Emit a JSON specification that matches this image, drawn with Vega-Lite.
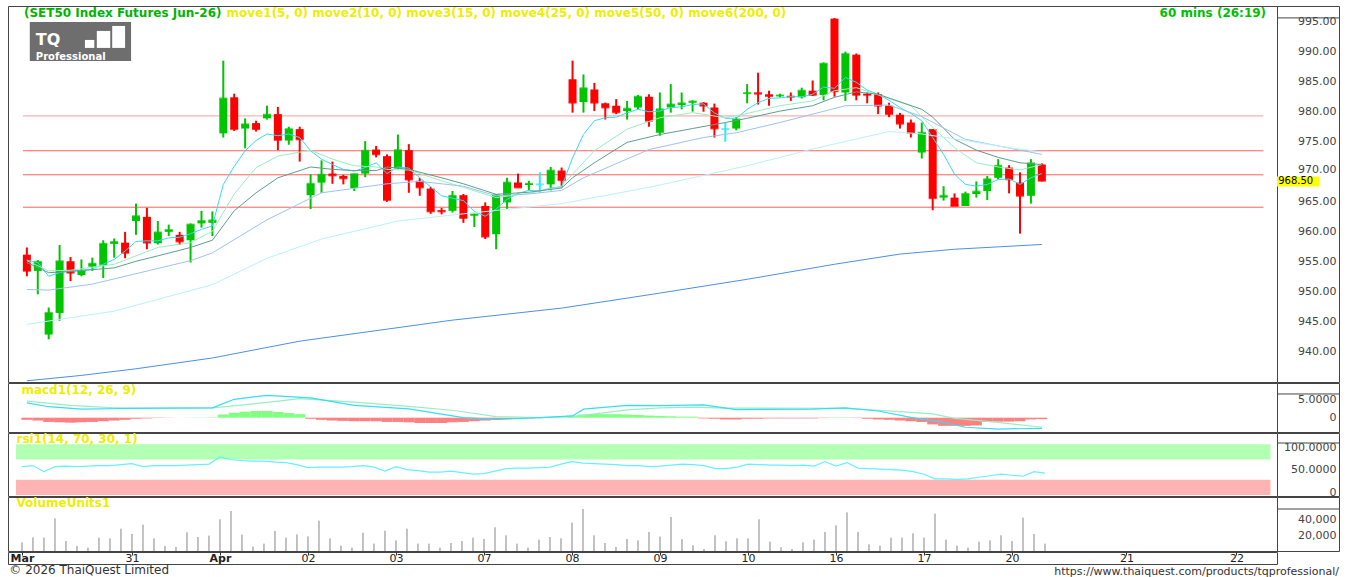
{
"$schema": "https://vega.github.io/schema/vega-lite/v6.json",
"padding": {"left": 7, "top": 5, "right": 8, "bottom": 0},
"background": "white",
"bounds": "flush",
"columns": 2,
"spacing": {"row": 1, "column": 0},
"config": {"view": {"stroke": "#444", "strokeWidth": 1}, "font": "DejaVu Sans"},
"datasets": {
"candles": [
{"i":0,"o":956.2,"h":957.4,"l":952.6,"c":953.5,"vol":10800,"rsi":56,"hist":-0.6},
{"i":1,"o":953.5,"h":955.3,"l":949.6,"c":955.0,"vol":17000,"rsi":58,"hist":-0.8},
{"i":2,"o":942.9,"h":947.4,"l":942.1,"c":946.5,"vol":16700,"rsi":46,"hist":-1.2},
{"i":3,"o":946.5,"h":957.8,"l":945.2,"c":955.1,"vol":40800,"rsi":56,"hist":-1.3},
{"i":4,"o":955.1,"h":955.8,"l":951.8,"c":953.2,"vol":12500,"rsi":57,"hist":-1.4},
{"i":5,"o":952.8,"h":955.4,"l":952.6,"c":953.5,"vol":6300,"rsi":56,"hist":-1.3},
{"i":6,"o":954.2,"h":955.7,"l":953.5,"c":954.7,"vol":4200,"rsi":57,"hist":-1.2},
{"i":7,"o":954.5,"h":958.6,"l":952.3,"c":958.0,"vol":16700,"rsi":58,"hist":-1.0},
{"i":8,"o":958.0,"h":958.9,"l":955.7,"c":958.3,"vol":15800,"rsi":58,"hist":-0.8},
{"i":9,"o":958.2,"h":960.0,"l":955.6,"c":956.5,"vol":27900,"rsi":60,"hist":-0.6},
{"i":10,"o":961.8,"h":964.7,"l":959.5,"c":962.6,"vol":21300,"rsi":62,"hist":-0.3},
{"i":11,"o":962.5,"h":964.0,"l":957.1,"c":958.2,"vol":32900,"rsi":56,"hist":-0.2},
{"i":12,"o":958.1,"h":961.8,"l":957.9,"c":959.9,"vol":15800,"rsi":58,"hist":-0.1},
{"i":13,"o":960.0,"h":961.2,"l":959.3,"c":960.3,"vol":6300,"rsi":58,"hist":-0.05},
{"i":14,"o":959.5,"h":960.0,"l":957.8,"c":958.4,"vol":5000,"rsi":58,"hist":0},
{"i":15,"o":958.6,"h":961.4,"l":954.9,"c":961.2,"vol":23300,"rsi":59,"hist":0.05},
{"i":16,"o":961.4,"h":963.5,"l":960.7,"c":961.8,"vol":17500,"rsi":60,"hist":0.05},
{"i":17,"o":961.5,"h":963.4,"l":959.3,"c":961.9,"vol":19200,"rsi":61,"hist":0.1},
{"i":18,"o":976.4,"h":988.5,"l":975.7,"c":982.2,"vol":39600,"rsi":75,"hist":0.9},
{"i":19,"o":982.4,"h":983.0,"l":976.8,"c":977.1,"vol":50000,"rsi":70,"hist":1.4},
{"i":20,"o":977.2,"h":978.9,"l":973.9,"c":977.9,"vol":20400,"rsi":68,"hist":1.7},
{"i":21,"o":978.1,"h":978.5,"l":976.7,"c":977.1,"vol":5400,"rsi":67,"hist":1.9},
{"i":22,"o":978.9,"h":981.0,"l":978.7,"c":979.5,"vol":9200,"rsi":67,"hist":1.9},
{"i":23,"o":979.6,"h":980.8,"l":973.6,"c":975.3,"vol":25000,"rsi":65,"hist":1.6},
{"i":24,"o":975.2,"h":977.5,"l":974.5,"c":977.1,"vol":16700,"rsi":64,"hist":1.3},
{"i":25,"o":977.1,"h":977.5,"l":971.7,"c":975.4,"vol":20800,"rsi":60,"hist":1.0},
{"i":26,"o":966.1,"h":969.6,"l":963.8,"c":968.0,"vol":18300,"rsi":54,"hist":-0.3},
{"i":27,"o":968.2,"h":971.9,"l":966.5,"c":969.5,"vol":37900,"rsi":55,"hist":-0.6},
{"i":28,"o":969.7,"h":971.7,"l":968.0,"c":969.4,"vol":15800,"rsi":55,"hist":-0.8},
{"i":29,"o":969.3,"h":969.5,"l":967.9,"c":968.9,"vol":6700,"rsi":55,"hist":-0.9},
{"i":30,"o":967.3,"h":969.7,"l":966.8,"c":969.6,"vol":4200,"rsi":56,"hist":-1.0},
{"i":31,"o":969.7,"h":975.1,"l":969.1,"c":973.5,"vol":22900,"rsi":58,"hist":-1.0},
{"i":32,"o":973.7,"h":974.3,"l":972.4,"c":972.9,"vol":9200,"rsi":55,"hist":-1.0},
{"i":33,"o":972.6,"h":972.9,"l":965.0,"c":965.3,"vol":25400,"rsi":47,"hist":-1.2},
{"i":34,"o":970.6,"h":976.2,"l":970.4,"c":973.6,"vol":13300,"rsi":56,"hist":-1.2},
{"i":35,"o":973.6,"h":974.6,"l":966.5,"c":968.7,"vol":27900,"rsi":50,"hist":-1.3},
{"i":36,"o":968.5,"h":969.0,"l":966.0,"c":967.4,"vol":9200,"rsi":48,"hist":-1.5},
{"i":37,"o":967.2,"h":967.5,"l":963.0,"c":963.4,"vol":9200,"rsi":45,"hist":-1.5},
{"i":38,"o":963.6,"h":964.0,"l":962.9,"c":963.4,"vol":4200,"rsi":45,"hist":-1.5},
{"i":39,"o":963.5,"h":966.8,"l":963.2,"c":966.0,"vol":10000,"rsi":47,"hist":-1.3},
{"i":40,"o":966.1,"h":966.3,"l":961.5,"c":962.3,"vol":12500,"rsi":44,"hist":-1.2},
{"i":41,"o":962.7,"h":963.0,"l":960.8,"c":962.9,"vol":16700,"rsi":41,"hist":-1.0},
{"i":42,"o":964.3,"h":964.9,"l":958.8,"c":959.2,"vol":15000,"rsi":42,"hist":-0.8},
{"i":43,"o":959.6,"h":966.3,"l":957.1,"c":966.1,"vol":29600,"rsi":47,"hist":-0.6},
{"i":44,"o":964.9,"h":969.0,"l":963.8,"c":968.2,"vol":19600,"rsi":52,"hist":-0.4},
{"i":45,"o":968.2,"h":969.7,"l":967.4,"c":967.4,"vol":9200,"rsi":53,"hist":-0.3},
{"i":46,"o":967.8,"h":968.5,"l":966.9,"c":968.0,"vol":4200,"rsi":53,"hist":-0.2},
{"i":47,"o":967.9,"h":969.9,"l":966.5,"c":967.9,"vol":14200,"rsi":54,"hist":-0.1},
{"i":48,"o":967.9,"h":970.8,"l":966.9,"c":970.2,"vol":17500,"rsi":55,"hist":0},
{"i":49,"o":970.2,"h":970.7,"l":967.4,"c":968.6,"vol":15800,"rsi":61,"hist":0.1},
{"i":50,"o":985.4,"h":988.5,"l":979.85,"c":981.5,"vol":35400,"rsi":66,"hist":0.6},
{"i":51,"o":981.6,"h":986.2,"l":979.85,"c":983.9,"vol":52500,"rsi":63,"hist":0.9},
{"i":52,"o":983.7,"h":984.8,"l":980.1,"c":981.5,"vol":19600,"rsi":62,"hist":1.0},
{"i":53,"o":981.4,"h":981.5,"l":978.7,"c":980.7,"vol":10000,"rsi":61,"hist":1.0},
{"i":54,"o":981.0,"h":982.1,"l":979.6,"c":979.9,"vol":5000,"rsi":60,"hist":1.0},
{"i":55,"o":980.1,"h":981.8,"l":978.7,"c":980.5,"vol":15000,"rsi":58,"hist":0.9},
{"i":56,"o":980.7,"h":982.8,"l":980.4,"c":982.5,"vol":13300,"rsi":58,"hist":0.8},
{"i":57,"o":982.5,"h":982.9,"l":977.5,"c":978.5,"vol":23800,"rsi":56,"hist":0.6},
{"i":58,"o":976.5,"h":983.2,"l":976.0,"c":980.4,"vol":18000,"rsi":57,"hist":0.5},
{"i":59,"o":980.7,"h":984.6,"l":979.85,"c":981.2,"vol":42500,"rsi":59,"hist":0.4},
{"i":60,"o":981.1,"h":983.2,"l":980.4,"c":981.4,"vol":14800,"rsi":61,"hist":0.3},
{"i":61,"o":981.5,"h":981.9,"l":980.0,"c":981.7,"vol":7200,"rsi":60,"hist":0.3},
{"i":62,"o":981.5,"h":981.6,"l":980.0,"c":981.0,"vol":2500,"rsi":58,"hist":-0.2},
{"i":63,"o":980.7,"h":981.35,"l":975.7,"c":977.2,"vol":19600,"rsi":52,"hist":-0.3},
{"i":64,"o":977.1,"h":978.2,"l":975.0,"c":977.1,"vol":12100,"rsi":52,"hist":-0.5},
{"i":65,"o":977.2,"h":979.1,"l":976.9,"c":978.7,"vol":15800,"rsi":55,"hist":-0.5},
{"i":66,"o":983.0,"h":984.6,"l":981.4,"c":983.1,"vol":15800,"rsi":61,"hist":-0.3},
{"i":67,"o":983.2,"h":986.5,"l":981.2,"c":983.0,"vol":39600,"rsi":60,"hist":-0.3},
{"i":68,"o":982.9,"h":983.5,"l":981.0,"c":982.6,"vol":11700,"rsi":59,"hist":-0.2},
{"i":69,"o":982.6,"h":983.0,"l":982.4,"c":982.7,"vol":4600,"rsi":59,"hist":-0.2},
{"i":70,"o":982.6,"h":983.2,"l":981.8,"c":982.5,"vol":2500,"rsi":58,"hist":-0.2},
{"i":71,"o":982.4,"h":984.0,"l":982.2,"c":983.5,"vol":10800,"rsi":59,"hist":-0.2},
{"i":72,"o":983.5,"h":985.2,"l":982.6,"c":982.8,"vol":14200,"rsi":57,"hist":-0.2},
{"i":73,"o":982.8,"h":988.2,"l":981.9,"c":988.0,"vol":23800,"rsi":66,"hist":-0.1},
{"i":74,"o":995.5,"h":995.6,"l":982.5,"c":983.4,"vol":32100,"rsi":57,"hist":0.1},
{"i":75,"o":983.2,"h":990.0,"l":981.8,"c":989.6,"vol":48300,"rsi":64,"hist":0.1},
{"i":76,"o":989.5,"h":989.7,"l":981.9,"c":982.8,"vol":23800,"rsi":53,"hist":-0.1},
{"i":77,"o":983.0,"h":983.2,"l":981.4,"c":982.8,"vol":8300,"rsi":52,"hist":-0.3},
{"i":78,"o":982.9,"h":983.2,"l":979.6,"c":981.0,"vol":6700,"rsi":51,"hist":-0.5},
{"i":79,"o":981.0,"h":981.5,"l":979.1,"c":979.6,"vol":16700,"rsi":50,"hist":-0.6},
{"i":80,"o":979.5,"h":979.8,"l":977.2,"c":978.0,"vol":16700,"rsi":49,"hist":-0.8},
{"i":81,"o":978.2,"h":978.7,"l":975.7,"c":976.5,"vol":22100,"rsi":46,"hist":-1.0},
{"i":82,"o":973.2,"h":978.2,"l":972.2,"c":976.5,"vol":16700,"rsi":41,"hist":-1.2},
{"i":83,"o":977.1,"h":977.1,"l":963.6,"c":965.6,"vol":46700,"rsi":32,"hist":-1.9},
{"i":84,"o":965.7,"h":967.6,"l":965.2,"c":966.0,"vol":14200,"rsi":32,"hist":-2.3},
{"i":85,"o":965.7,"h":966.4,"l":964.3,"c":964.3,"vol":6700,"rsi":31,"hist":-2.3},
{"i":86,"o":964.3,"h":966.7,"l":964.3,"c":966.3,"vol":4200,"rsi":32,"hist":-2.3},
{"i":87,"o":966.3,"h":968.4,"l":965.7,"c":966.7,"vol":11700,"rsi":35,"hist":-2.2},
{"i":88,"o":966.8,"h":969.3,"l":965.3,"c":968.75,"vol":13300,"rsi":38,"hist":-1.2},
{"i":89,"o":969.0,"h":972.1,"l":968.75,"c":971.0,"vol":19600,"rsi":41,"hist":-1.1},
{"i":90,"o":970.7,"h":971.1,"l":966.4,"c":968.75,"vol":12500,"rsi":39,"hist":-1.1},
{"i":91,"o":968.2,"h":969.9,"l":959.7,"c":966.0,"vol":41700,"rsi":37,"hist":-1.0},
{"i":92,"o":966.0,"h":972.1,"l":964.7,"c":971.4,"vol":21300,"rsi":46,"hist":-0.5},
{"i":93,"o":971.2,"h":971.4,"l":968.4,"c":968.5,"vol":9200,"rsi":43,"hist":-0.4}
],
"ma": [
{"i":0,"s":"move1","p":955.3},{"i":1,"s":"move1","p":954.9},{"i":2,"s":"move1","p":952.6},{"i":3,"s":"move1","p":953.2},{"i":4,"s":"move1","p":953.5},{"i":5,"s":"move1","p":953.6},{"i":6,"s":"move1","p":953.8},{"i":7,"s":"move1","p":954.6},{"i":8,"s":"move1","p":955.4},{"i":9,"s":"move1","p":956.8},
{"i":10,"s":"move1","p":958.4},{"i":11,"s":"move1","p":958.5},{"i":12,"s":"move1","p":958.5},{"i":13,"s":"move1","p":959.0},{"i":14,"s":"move1","p":959.1},{"i":15,"s":"move1","p":959.7},{"i":16,"s":"move1","p":960.4},{"i":17,"s":"move1","p":961.0},{"i":18,"s":"move1","p":967.9},{"i":19,"s":"move1","p":970.9},
{"i":20,"s":"move1","p":973.5},{"i":21,"s":"move1","p":975.2},{"i":22,"s":"move1","p":976.3},{"i":23,"s":"move1","p":976.0},{"i":24,"s":"move1","p":976.3},{"i":25,"s":"move1","p":975.7},{"i":26,"s":"move1","p":973.5},{"i":27,"s":"move1","p":972.1},{"i":28,"s":"move1","p":971.2},{"i":29,"s":"move1","p":970.4},
{"i":30,"s":"move1","p":970.1},{"i":31,"s":"move1","p":970.7},{"i":32,"s":"move1","p":971.5},{"i":33,"s":"move1","p":969.7},{"i":34,"s":"move1","p":970.8},{"i":35,"s":"move1","p":970.6},{"i":36,"s":"move1","p":969.0},{"i":37,"s":"move1","p":967.5},{"i":38,"s":"move1","p":966.0},{"i":39,"s":"move1","p":965.6},
{"i":40,"s":"move1","p":965.2},{"i":41,"s":"move1","p":963.4},{"i":42,"s":"move1","p":962.6},{"i":43,"s":"move1","p":963.8},{"i":44,"s":"move1","p":965.4},{"i":45,"s":"move1","p":966.4},{"i":46,"s":"move1","p":966.9},{"i":47,"s":"move1","p":966.8},{"i":48,"s":"move1","p":967.3},{"i":49,"s":"move1","p":967.5},
{"i":50,"s":"move1","p":972.3},{"i":51,"s":"move1","p":976.2},{"i":52,"s":"move1","p":978.5},{"i":53,"s":"move1","p":979.0},{"i":54,"s":"move1","p":979.1},{"i":55,"s":"move1","p":979.8},{"i":56,"s":"move1","p":980.4},{"i":57,"s":"move1","p":980.0},{"i":58,"s":"move1","p":980.1},{"i":59,"s":"move1","p":980.7},
{"i":60,"s":"move1","p":980.8},{"i":61,"s":"move1","p":981.2},{"i":62,"s":"move1","p":981.3},{"i":63,"s":"move1","p":979.8},{"i":64,"s":"move1","p":978.9},{"i":65,"s":"move1","p":978.9},{"i":66,"s":"move1","p":980.4},{"i":67,"s":"move1","p":981.5},{"i":68,"s":"move1","p":982.2},{"i":69,"s":"move1","p":982.3},
{"i":70,"s":"move1","p":982.5},{"i":71,"s":"move1","p":982.5},{"i":72,"s":"move1","p":982.9},{"i":73,"s":"move1","p":984.1},{"i":74,"s":"move1","p":983.9},{"i":75,"s":"move1","p":985.7},{"i":76,"s":"move1","p":984.9},{"i":77,"s":"move1","p":983.6},{"i":78,"s":"move1","p":982.9},{"i":79,"s":"move1","p":981.9},
{"i":80,"s":"move1","p":980.7},{"i":81,"s":"move1","p":979.7},{"i":82,"s":"move1","p":978.5},{"i":83,"s":"move1","p":975.7},{"i":84,"s":"move1","p":972.9},{"i":85,"s":"move1","p":969.6},{"i":86,"s":"move1","p":967.9},{"i":87,"s":"move1","p":967.6},{"i":88,"s":"move1","p":967.9},{"i":89,"s":"move1","p":968.7},
{"i":90,"s":"move1","p":968.8},{"i":91,"s":"move1","p":967.9},{"i":92,"s":"move1","p":969.0},{"i":93,"s":"move1","p":969.7},
{"i":0,"s":"move2","p":955.2},{"i":2,"s":"move2","p":953.5},{"i":4,"s":"move2","p":953.6},{"i":8,"s":"move2","p":954.6},{"i":10,"s":"move2","p":956.0},{"i":12,"s":"move2","p":957.4},{"i":15,"s":"move2","p":958.2},{"i":17,"s":"move2","p":960.1},{"i":19,"s":"move2","p":966.3},{"i":21,"s":"move2","p":970.7},{"i":23,"s":"move2","p":972.6},{"i":26,"s":"move2","p":973.6},{"i":28,"s":"move2","p":972.1},{"i":30,"s":"move2","p":971.0},{"i":32,"s":"move2","p":970.8},{"i":33,"s":"move2","p":970.4},{"i":35,"s":"move2","p":970.3},{"i":38,"s":"move2","p":968.5},{"i":40,"s":"move2","p":967.4},{"i":43,"s":"move2","p":965.7},{"i":46,"s":"move2","p":966.4},{"i":49,"s":"move2","p":967.6},{"i":50,"s":"move2","p":969.6},{"i":52,"s":"move2","p":973.5},{"i":55,"s":"move2","p":977.1},{"i":58,"s":"move2","p":979.0},{"i":61,"s":"move2","p":979.85},{"i":64,"s":"move2","p":979.0},{"i":66,"s":"move2","p":979.7},{"i":69,"s":"move2","p":981.0},{"i":72,"s":"move2","p":981.8},{"i":74,"s":"move2","p":983.5},{"i":76,"s":"move2","p":984.0},{"i":78,"s":"move2","p":982.8},{"i":81,"s":"move2","p":981.0},{"i":83,"s":"move2","p":977.4},{"i":85,"s":"move2","p":974.0},{"i":87,"s":"move2","p":971.5},{"i":89,"s":"move2","p":970.8},{"i":91,"s":"move2","p":970.3},{"i":93,"s":"move2","p":971.2},
{"i":0,"s":"move3","p":954.9},{"i":2,"s":"move3","p":953.2},{"i":4,"s":"move3","p":953.4},{"i":8,"s":"move3","p":954.0},{"i":10,"s":"move3","p":955.1},{"i":12,"s":"move3","p":956.0},{"i":15,"s":"move3","p":957.4},{"i":17,"s":"move3","p":958.6},{"i":19,"s":"move3","p":963.5},{"i":21,"s":"move3","p":966.5},{"i":23,"s":"move3","p":969.0},{"i":26,"s":"move3","p":970.8},{"i":28,"s":"move3","p":970.4},{"i":30,"s":"move3","p":970.2},{"i":32,"s":"move3","p":970.2},{"i":33,"s":"move3","p":970.8},{"i":35,"s":"move3","p":970.4},{"i":38,"s":"move3","p":969.0},{"i":40,"s":"move3","p":968.0},{"i":43,"s":"move3","p":966.25},{"i":46,"s":"move3","p":966.6},{"i":49,"s":"move3","p":967.3},{"i":50,"s":"move3","p":969.0},{"i":52,"s":"move3","p":971.5},{"i":55,"s":"move3","p":974.9},{"i":58,"s":"move3","p":976.2},{"i":61,"s":"move3","p":977.2},{"i":64,"s":"move3","p":978.2},{"i":66,"s":"move3","p":978.9},{"i":69,"s":"move3","p":980.1},{"i":72,"s":"move3","p":981.0},{"i":74,"s":"move3","p":982.4},{"i":76,"s":"move3","p":983.3},{"i":78,"s":"move3","p":982.9},{"i":82,"s":"move3","p":980.4},{"i":83,"s":"move3","p":979.1},{"i":85,"s":"move3","p":975.4},{"i":87,"s":"move3","p":973.6},{"i":89,"s":"move3","p":972.4},{"i":91,"s":"move3","p":971.5},{"i":93,"s":"move3","p":971.2},
{"i":0,"s":"move4","p":950.4},{"i":2,"s":"move4","p":950.3},{"i":6,"s":"move4","p":951.3},{"i":9,"s":"move4","p":952.6},{"i":15,"s":"move4","p":955.2},{"i":17,"s":"move4","p":956.5},{"i":22,"s":"move4","p":962.0},{"i":27,"s":"move4","p":966.5},{"i":33,"s":"move4","p":968.0},{"i":36,"s":"move4","p":968.4},{"i":40,"s":"move4","p":967.6},{"i":43,"s":"move4","p":966.0},{"i":46,"s":"move4","p":966.3},{"i":49,"s":"move4","p":966.9},{"i":51,"s":"move4","p":969.0},{"i":57,"s":"move4","p":973.7},{"i":62,"s":"move4","p":975.7},{"i":65,"s":"move4","p":976.5},{"i":69,"s":"move4","p":978.2},{"i":75,"s":"move4","p":981.0},{"i":79,"s":"move4","p":981.1},{"i":82,"s":"move4","p":979.2},{"i":86,"s":"move4","p":975.4},{"i":89,"s":"move4","p":974.3},{"i":93,"s":"move4","p":972.9},
{"i":0,"s":"move5","p":944.6},{"i":8,"s":"move5","p":946.8},{"i":17,"s":"move5","p":951.2},{"i":22,"s":"move5","p":955.6},{"i":27,"s":"move5","p":958.8},{"i":34,"s":"move5","p":961.8},{"i":40,"s":"move5","p":963.0},{"i":49,"s":"move5","p":964.7},{"i":57,"s":"move5","p":967.4},{"i":66,"s":"move5","p":971.0},{"i":72,"s":"move5","p":973.8},{"i":79,"s":"move5","p":976.7},{"i":82,"s":"move5","p":976.3},{"i":86,"s":"move5","p":975.2},{"i":90,"s":"move5","p":974.0},{"i":93,"s":"move5","p":973.3},
{"i":0,"s":"move6","p":935.2},{"i":5,"s":"move6","p":936.1},{"i":10,"s":"move6","p":937.2},{"i":17,"s":"move6","p":939.0},{"i":25,"s":"move6","p":941.8},{"i":39,"s":"move6","p":945.3},{"i":49,"s":"move6","p":947.3},{"i":58,"s":"move6","p":949.8},{"i":66,"s":"move6","p":952.1},{"i":74,"s":"move6","p":954.6},{"i":80,"s":"move6","p":956.3},{"i":85,"s":"move6","p":957.1},{"i":93,"s":"move6","p":957.9}
],
"macdl": [
{"i":0,"s":"signal","v":4.7},{"i":4,"s":"signal","v":3.5},{"i":8,"s":"signal","v":2.8},{"i":17,"s":"signal","v":2.8},{"i":21,"s":"signal","v":4.0},{"i":25,"s":"signal","v":5.4},{"i":30,"s":"signal","v":4.4},{"i":35,"s":"signal","v":3.2},{"i":39,"s":"signal","v":2.1},{"i":43,"s":"signal","v":0.3},{"i":47,"s":"signal","v":0.0},{"i":50,"s":"signal","v":0.3},{"i":55,"s":"signal","v":2.2},{"i":58,"s":"signal","v":2.8},{"i":61,"s":"signal","v":3.0},{"i":64,"s":"signal","v":2.7},{"i":75,"s":"signal","v":2.65},{"i":80,"s":"signal","v":1.7},{"i":83,"s":"signal","v":1.1},{"i":85,"s":"signal","v":-0.2},{"i":89,"s":"signal","v":-1.3},{"i":93,"s":"signal","v":-2.7},
{"i":0,"s":"macd","v":4.2},{"i":2,"s":"macd","v":3.1},{"i":5,"s":"macd","v":2.4},{"i":9,"s":"macd","v":2.6},{"i":17,"s":"macd","v":2.8},{"i":19,"s":"macd","v":5.2},{"i":22,"s":"macd","v":6.3},{"i":26,"s":"macd","v":5.6},{"i":30,"s":"macd","v":3.5},{"i":35,"s":"macd","v":2.5},{"i":40,"s":"macd","v":0.0},{"i":43,"s":"macd","v":-0.5},{"i":47,"s":"macd","v":0.0},{"i":50,"s":"macd","v":0.5},{"i":51,"s":"macd","v":2.4},{"i":55,"s":"macd","v":3.5},{"i":58,"s":"macd","v":3.4},{"i":62,"s":"macd","v":3.6},{"i":65,"s":"macd","v":2.3},{"i":72,"s":"macd","v":2.4},{"i":75,"s":"macd","v":2.8},{"i":78,"s":"macd","v":1.9},{"i":81,"s":"macd","v":0.1},{"i":84,"s":"macd","v":-1.3},{"i":86,"s":"macd","v":-2.7},{"i":89,"s":"macd","v":-3.2},{"i":93,"s":"macd","v":-3.0}
]
},
"concat": [
{
"width": 1269, "height": 376,
"layer": [
{"data": {"values": [{"p":979.3,"k":"a"},{"p":973.5,"k":"b"},{"p":969.5,"k":"b"},{"p":964.1,"k":"b"}]},
 "mark": {"type": "rule", "strokeWidth": 1},
 "encoding": {
  "x": {"datum": -0.36, "type": "quantitative", "scale": {"domain":[-1.27,114.09],"nice":false,"zero":false}, "axis": null},
  "x2": {"datum": 113.3},
  "y": {"field": "p", "type": "quantitative", "scale": {"domain":[935,997.6],"nice":false,"zero":false}, "axis": null},
  "color": {"condition": {"test": "datum.k == 'a'", "value": "#ff9e9e"}, "value": "#ff6060"}}},
{"data": {"name": "candles"},
 "mark": {"type": "rule", "strokeWidth": 2},
 "encoding": {
  "x": {"field": "i", "type": "quantitative", "scale": {"domain":[-1.27,114.09],"nice":false,"zero":false}, "axis": null},
  "y": {"field": "l", "type": "quantitative", "scale": {"domain":[935,997.6],"nice":false,"zero":false}, "axis": null},
  "y2": {"field": "h"},
  "color": {"condition": [{"test": "datum.c > datum.o", "value": "#00c400"}, {"test": "datum.c < datum.o", "value": "#ff0000"}], "value": "#2ee6ff"}}},
{"data": {"name": "candles"},
 "mark": {"type": "bar", "size": 8},
 "encoding": {
  "x": {"field": "i", "type": "quantitative", "scale": {"domain":[-1.27,114.09],"nice":false,"zero":false}, "axis": null},
  "y": {"field": "o", "type": "quantitative", "scale": {"domain":[935,997.6],"nice":false,"zero":false}, "axis": null},
  "y2": {"field": "c"},
  "color": {"condition": [{"test": "datum.c > datum.o", "value": "#00c400"}, {"test": "datum.c < datum.o", "value": "#ff0000"}], "value": "#2ee6ff"}}},
{"data": {"name": "candles"},
 "mark": {"type": "tick", "orient": "horizontal", "size": 8, "thickness": 2},
 "encoding": {
  "x": {"field": "i", "type": "quantitative", "scale": {"domain":[-1.27,114.09],"nice":false,"zero":false}, "axis": null},
  "y": {"field": "c", "type": "quantitative", "scale": {"domain":[935,997.6],"nice":false,"zero":false}, "axis": null},
  "color": {"condition": [{"test": "datum.c > datum.o", "value": "#00c400"}, {"test": "datum.c < datum.o", "value": "#ff0000"}], "value": "#2ee6ff"}}},
{"data": {"name": "ma"},
 "mark": {"type": "line", "strokeWidth": 1},
 "encoding": {
  "x": {"field": "i", "type": "quantitative", "scale": {"domain":[-1.27,114.09],"nice":false,"zero":false}, "axis": null},
  "y": {"field": "p", "type": "quantitative", "scale": {"domain":[935,997.6],"nice":false,"zero":false}, "axis": null},
  "color": {"field": "s", "type": "nominal", "scale": {"domain": ["move1","move2","move3","move4","move5","move6"], "range": ["#36dcf2","#98eec4","#5e9e90","#9cc3f0","#b8f2fa","#4b8fe8"]}, "legend": null}}},
{"data": {"values": [{}]},
 "mark": {"type": "rect", "color": "#6e6e6e"},
 "encoding": {
  "x": {"datum": 0.27, "type": "quantitative", "scale": {"domain":[-1.27,114.09],"nice":false,"zero":false}, "axis": null},
  "x2": {"datum": 9.55},
  "y": {"datum": 988.46, "type": "quantitative", "scale": {"domain":[935,997.6],"nice":false,"zero":false}, "axis": null},
  "y2": {"datum": 994.95}}},
{"data": {"values": [{}]},
 "mark": {"type": "rect", "color": "#ffffff"},
 "encoding": {
  "x": {"datum": 5.32, "type": "quantitative", "scale": {"domain":[-1.27,114.09],"nice":false,"zero":false}, "axis": null},
  "x2": {"datum": 6.18},
  "y": {"datum": 990.62, "type": "quantitative", "scale": {"domain":[935,997.6],"nice":false,"zero":false}, "axis": null},
  "y2": {"datum": 991.95}}},
{"data": {"values": [{}]},
 "mark": {"type": "rect", "color": "#ffffff"},
 "encoding": {
  "x": {"datum": 6.41, "type": "quantitative", "scale": {"domain":[-1.27,114.09],"nice":false,"zero":false}, "axis": null},
  "x2": {"datum": 7.64},
  "y": {"datum": 990.62, "type": "quantitative", "scale": {"domain":[935,997.6],"nice":false,"zero":false}, "axis": null},
  "y2": {"datum": 993.45}}},
{"data": {"values": [{}]},
 "mark": {"type": "rect", "color": "#ffffff"},
 "encoding": {
  "x": {"datum": 7.82, "type": "quantitative", "scale": {"domain":[-1.27,114.09],"nice":false,"zero":false}, "axis": null},
  "x2": {"datum": 9.0},
  "y": {"datum": 990.62, "type": "quantitative", "scale": {"domain":[935,997.6],"nice":false,"zero":false}, "axis": null},
  "y2": {"datum": 994.28}}},
{"data": {"values": [{}]},
 "mark": {"type": "text", "text": "TQ", "align": "left", "baseline": "middle", "font": "DejaVu Sans", "fontSize": 16, "fontWeight": "bold", "color": "#ffffff"},
 "encoding": {
  "x": {"datum": 0.82, "type": "quantitative", "scale": {"domain":[-1.27,114.09],"nice":false,"zero":false}, "axis": null},
  "y": {"datum": 991.95, "type": "quantitative", "scale": {"domain":[935,997.6],"nice":false,"zero":false}, "axis": null}}},
{"data": {"values": [{}]},
 "mark": {"type": "text", "text": "Professional", "align": "left", "baseline": "middle", "font": "DejaVu Sans", "fontSize": 10, "fontWeight": "bold", "color": "#ffffff"},
 "encoding": {
  "x": {"datum": 0.82, "type": "quantitative", "scale": {"domain":[-1.27,114.09],"nice":false,"zero":false}, "axis": null},
  "y": {"datum": 989.15, "type": "quantitative", "scale": {"domain":[935,997.6],"nice":false,"zero":false}, "axis": null}}},
{"data": {"values": [{}]},
 "mark": {"type": "text", "text": "(SET50 Index Futures Jun-26)", "align": "left", "baseline": "middle", "font": "DejaVu Sans", "fontSize": 12, "fontWeight": "bold", "color": "#00b400"},
 "encoding": {
  "x": {"datum": -0.27, "type": "quantitative", "scale": {"domain":[-1.27,114.09],"nice":false,"zero":false}, "axis": null},
  "y": {"datum": 996.48, "type": "quantitative", "scale": {"domain":[935,997.6],"nice":false,"zero":false}, "axis": null}}},
{"data": {"values": [{}]},
 "mark": {"type": "text", "text": "move1(5, 0) move2(10, 0) move3(15, 0) move4(25, 0) move5(50, 0) move6(200, 0)", "align": "left", "baseline": "middle", "font": "DejaVu Sans", "fontSize": 12, "fontWeight": "bold", "color": "#eeee00"},
 "encoding": {
  "x": {"datum": 18.3, "type": "quantitative", "scale": {"domain":[-1.27,114.09],"nice":false,"zero":false}, "axis": null},
  "y": {"datum": 996.48, "type": "quantitative", "scale": {"domain":[935,997.6],"nice":false,"zero":false}, "axis": null}}},
{"data": {"values": [{}]},
 "mark": {"type": "text", "text": "60 mins (26:19)", "align": "right", "baseline": "middle", "font": "DejaVu Sans", "fontSize": 12, "fontWeight": "bold", "color": "#00c000"},
 "encoding": {
  "x": {"datum": 113.55, "type": "quantitative", "scale": {"domain":[-1.27,114.09],"nice":false,"zero":false}, "axis": null},
  "y": {"datum": 996.48, "type": "quantitative", "scale": {"domain":[935,997.6],"nice":false,"zero":false}, "axis": null}}}
]
},
{
"width": 62, "height": 376,
"layer": [
{"data": {"values": [{}]},
 "mark": {"type": "rect", "color": "#ffff00"},
 "encoding": {
  "x": {"datum": 0, "type": "quantitative", "scale": {"domain":[0,1],"nice":false,"zero":false}, "axis": null},
  "x2": {"datum": 0.68},
  "y": {"datum": 967.55, "type": "quantitative", "scale": {"domain":[935,997.6],"nice":false,"zero":false},
   "axis": {"orient": "right", "values": [995,990,985,980,975,970.35,965,960,955,950,945,940], "labelExpr": "format(round(datum.value), '.2f')", "domain": false, "ticks": false, "grid": false, "labelAlign": "right", "labelPadding": -3, "labelFont": "DejaVu Sans", "labelFontSize": 11, "labelColor": "#444", "title": null, "labelOverlap": false}},
  "y2": {"datum": 969.2}}},
{"data": {"values": [{}]},
 "mark": {"type": "text", "text": "968.50", "align": "left", "baseline": "middle", "font": "DejaVu Sans", "fontSize": 10, "color": "#000000"},
 "encoding": {
  "x": {"datum": 0.02, "type": "quantitative", "scale": {"domain":[0,1],"nice":false,"zero":false}, "axis": null},
  "y": {"datum": 968.39, "type": "quantitative", "scale": {"domain":[935,997.6],"nice":false,"zero":false},
   "axis": {"orient": "right", "values": [995,990,985,980,975,970.35,965,960,955,950,945,940], "labelExpr": "format(round(datum.value), '.2f')", "domain": false, "ticks": false, "grid": false, "labelAlign": "right", "labelPadding": -3, "labelFont": "DejaVu Sans", "labelFontSize": 11, "labelColor": "#444", "title": null, "labelOverlap": false}}}},
{"data": {"values": [{}]},
 "mark": {"type": "rule", "color": "#444"},
 "encoding": {
  "x": {"datum": 0, "type": "quantitative", "scale": {"domain":[0,1],"nice":false,"zero":false}, "axis": null},
  "x2": {"datum": 1},
  "y": {"datum": 995.62, "type": "quantitative", "scale": {"domain":[935,997.6],"nice":false,"zero":false},
   "axis": {"orient": "right", "values": [995,990,985,980,975,970.35,965,960,955,950,945,940], "labelExpr": "format(round(datum.value), '.2f')", "domain": false, "ticks": false, "grid": false, "labelAlign": "right", "labelPadding": -3, "labelFont": "DejaVu Sans", "labelFontSize": 11, "labelColor": "#444", "title": null, "labelOverlap": false}}}}
]
},
{
"width": 1269, "height": 49,
"layer": [
{"data": {"name": "candles"},
 "mark": {"type": "bar", "size": 11},
 "encoding": {
  "x": {"field": "i", "type": "quantitative", "scale": {"domain":[-1.27,114.09],"nice":false,"zero":false}, "axis": null},
  "y": {"field": "hist", "type": "quantitative", "scale": {"domain":[-4.04,9.8],"nice":false,"zero":false}, "axis": null},
  "y2": {"datum": 0},
  "color": {"condition": {"test": "datum.hist >= 0", "value": "#80ff80"}, "value": "#ff8080"}}},
{"data": {"name": "macdl"},
 "mark": {"type": "line", "strokeWidth": 1.2},
 "encoding": {
  "x": {"field": "i", "type": "quantitative", "scale": {"domain":[-1.27,114.09],"nice":false,"zero":false}, "axis": null},
  "y": {"field": "v", "type": "quantitative", "scale": {"domain":[-4.04,9.8],"nice":false,"zero":false}, "axis": null},
  "color": {"field": "s", "type": "nominal", "scale": {"domain": ["macd","signal"], "range": ["#66f0ff","#ffb366"]}, "legend": null}}},
{"data": {"values": [{}]},
 "mark": {"type": "text", "text": "macd1(12, 26, 9)", "align": "left", "baseline": "top", "font": "DejaVu Sans", "fontSize": 12, "fontWeight": "bold", "color": "#eeee00"},
 "encoding": {
  "x": {"datum": -0.5, "type": "quantitative", "scale": {"domain":[-1.27,114.09],"nice":false,"zero":false}, "axis": null},
  "y": {"datum": 9.3, "type": "quantitative", "scale": {"domain":[-4.04,9.8],"nice":false,"zero":false}, "axis": null}}}
]
},
{
"width": 62, "height": 49,
"data": {"values": [{}]},
"mark": {"type": "rule", "color": "#444"},
"encoding": {
 "y": {"datum": 6.7, "type": "quantitative", "scale": {"domain":[-4.04,9.8],"nice":false,"zero":false},
  "axis": {"orient": "right", "values": [5, 0], "labelExpr": "datum.value == 0 ? '0' : format(datum.value, '.4f')", "domain": false, "ticks": false, "grid": false, "labelAlign": "right", "labelPadding": -3, "labelFont": "DejaVu Sans", "labelFontSize": 11, "labelColor": "#444", "title": null, "labelOverlap": false}}}
},
{
"width": 1269, "height": 63,
"layer": [
{"data": {"values": [{"lo":70,"hi":100,"k":"ob"},{"lo":0,"hi":30,"k":"os"}]},
 "mark": {"type": "rect"},
 "encoding": {
  "x": {"datum": -0.55, "type": "quantitative", "scale": {"domain":[-1.27,114.09],"nice":false,"zero":false}, "axis": null},
  "x2": {"datum": 113.5},
  "y": {"field": "lo", "type": "quantitative", "scale": {"domain":[-1.97,122.3],"nice":false,"zero":false}, "axis": null},
  "y2": {"field": "hi"},
  "color": {"condition": {"test": "datum.k == 'ob'", "value": "#b3ffb3"}, "value": "#ffb3b3"}}},
{"data": {"name": "candles"},
 "mark": {"type": "line", "strokeWidth": 1.2, "color": "#66f0ff"},
 "encoding": {
  "x": {"field": "i", "type": "quantitative", "scale": {"domain":[-1.27,114.09],"nice":false,"zero":false}, "axis": null},
  "y": {"field": "rsi", "type": "quantitative", "scale": {"domain":[-1.97,122.3],"nice":false,"zero":false}, "axis": null}}},
{"data": {"values": [{}]},
 "mark": {"type": "text", "text": "rsi1(14, 70, 30, 1)", "align": "left", "baseline": "top", "font": "DejaVu Sans", "fontSize": 12, "fontWeight": "bold", "color": "#eeee00"},
 "encoding": {
  "x": {"datum": -0.5, "type": "quantitative", "scale": {"domain":[-1.27,114.09],"nice":false,"zero":false}, "axis": null},
  "y": {"datum": 120.0, "type": "quantitative", "scale": {"domain":[-1.97,122.3],"nice":false,"zero":false}, "axis": null}}}
]
},
{
"width": 62, "height": 63,
"data": {"values": [{}]},
"mark": {"type": "rule", "color": "#444"},
"encoding": {
 "y": {"datum": 102.6, "type": "quantitative", "scale": {"domain":[-1.97,122.3],"nice":false,"zero":false},
  "axis": {"orient": "right", "values": [93.3, 50.7, 5.9], "labelExpr": "datum.value > 90 ? '100.0000' : datum.value > 40 ? '50.0000' : '0'", "domain": false, "ticks": false, "grid": false, "labelAlign": "right", "labelPadding": -3, "labelFont": "DejaVu Sans", "labelFontSize": 11, "labelColor": "#444", "title": null, "labelOverlap": false}}}
},
{
"width": 1269, "height": 54,
"layer": [
{"data": {"name": "candles"},
 "mark": {"type": "rule", "strokeWidth": 1, "color": "#858585"},
 "encoding": {
  "x": {"field": "i", "type": "quantitative", "scale": {"domain":[-1.27,114.09],"nice":false,"zero":false}, "axis": null},
  "y": {"field": "vol", "type": "quantitative", "scale": {"domain":[0,67500],"nice":false,"zero":false}, "axis": null},
  "y2": {"datum": 0}}},
{"data": {"values": [{}]},
 "mark": {"type": "text", "text": "VolumeUnits1", "align": "left", "baseline": "top", "font": "DejaVu Sans", "fontSize": 12, "fontWeight": "bold", "color": "#eeee00"},
 "encoding": {
  "x": {"datum": -0.5, "type": "quantitative", "scale": {"domain":[-1.27,114.09],"nice":false,"zero":false}, "axis": null},
  "y": {"datum": 66000, "type": "quantitative", "scale": {"domain":[0,67500],"nice":false,"zero":false}, "axis": null}}}
]
},
{
"width": 62, "height": 54,
"data": {"values": [{}]},
"mark": {"type": "rule", "color": "#444"},
"encoding": {
 "y": {"datum": 52500, "type": "quantitative", "scale": {"domain":[0,67500],"nice":false,"zero":false},
  "axis": {"orient": "right", "values": [40000, 20000], "format": ",.0f", "domain": false, "ticks": false, "grid": false, "labelAlign": "right", "labelPadding": -3, "labelFont": "DejaVu Sans", "labelFontSize": 11, "labelColor": "#444", "title": null, "labelOverlap": false}}}
},
{
"width": 1269, "height": 12,
"data": {"values": [{}]},
"mark": {"type": "rule", "opacity": 0},
"encoding": {
 "x": {"datum": 0, "type": "quantitative", "scale": {"domain":[-1.27,114.09],"nice":false,"zero":false},
  "axis": {"orient": "top", "values": [0,10,18,26,34,42,50,58,66,74,82,90,100.4,110.4], "labelExpr": "['Mar','31','Apr','02','03','07','08','09','10','16','17','20','21','22'][indexof([0,10,18,26,34,42,50,58,66,74,82,90,100.4,110.4], datum.value)]", "domain": false, "grid": false, "ticks": true, "tickSize": -3, "tickColor": "#333", "labelPadding": -3, "labelBaseline": "middle", "labelFont": "DejaVu Sans", "labelFontSize": 11, "labelColor": "#222", "labelFontWeight": {"condition": {"test": "datum.value == 0 || datum.value == 18", "value": "bold"}, "value": "normal"}, "title": null, "labelOverlap": false, "labelFlush": false}}}
},
{
"width": 62, "height": 12,
"data": {"values": [{}]},
"mark": {"type": "rule", "opacity": 0},
"encoding": {}
},
{
"width": 1269, "height": 13,
"view": {"stroke": null},
"layer": [
{"data": {"values": [{}]},
 "mark": {"type": "text", "text": "© 2026 ThaiQuest Limited", "align": "left", "baseline": "middle", "font": "DejaVu Sans", "fontSize": 12, "color": "#333"},
 "encoding": {
  "x": {"datum": -1.15, "type": "quantitative", "scale": {"domain":[-1.27,114.09],"nice":false,"zero":false}, "axis": null},
  "y": {"datum": 0.62, "type": "quantitative", "scale": {"domain":[0,1],"nice":false,"zero":false}, "axis": null}}},
{"data": {"values": [{}]},
 "mark": {"type": "text", "text": "https://www.thaiquest.com/products/tqprofessional/", "align": "right", "baseline": "middle", "font": "DejaVu Sans", "fontSize": 11, "color": "#333"},
 "encoding": {
  "x": {"datum": 119.73, "type": "quantitative", "scale": {"domain":[-1.27,114.09],"nice":false,"zero":false}, "axis": null},
  "y": {"datum": 0.46, "type": "quantitative", "scale": {"domain":[0,1],"nice":false,"zero":false}, "axis": null}}}
]
},
{
"width": 62, "height": 13,
"view": {"stroke": null},
"data": {"values": [{}]},
"mark": {"type": "rule", "opacity": 0},
"encoding": {}
}
]
}
